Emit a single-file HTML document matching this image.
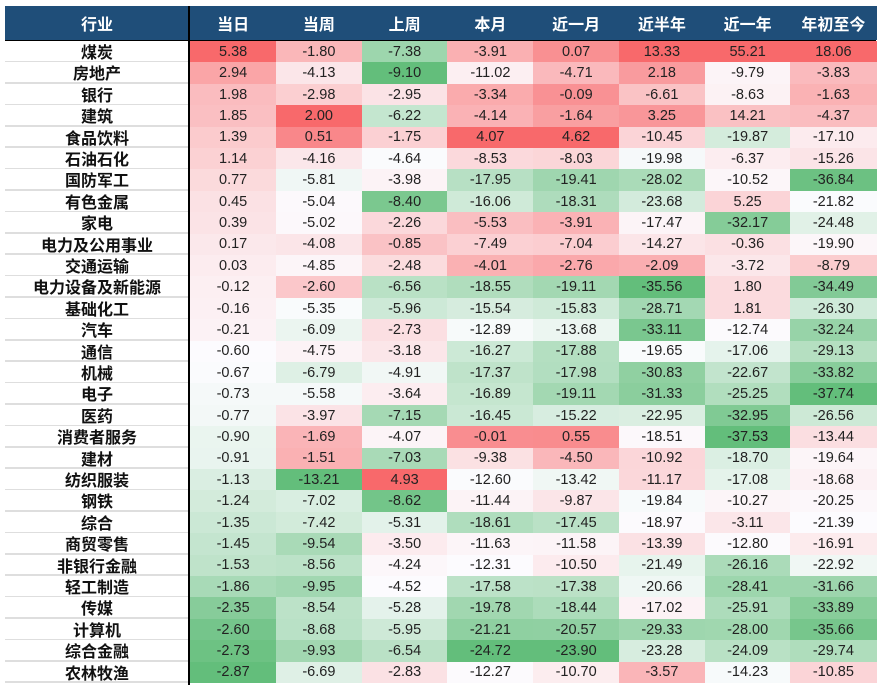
<!DOCTYPE html>
<html><head><meta charset="utf-8">
<style>
body{margin:0;background:#fff;width:880px;height:685px;overflow:hidden;font-family:"Liberation Sans","Noto Sans CJK SC",sans-serif;}
#wrap{position:absolute;left:0;top:0;width:880px;height:685px;}
.hd{position:absolute;top:6px;height:34px;background:#1f4e79;color:#fff;font-size:16px;font-weight:bold;display:flex;align-items:center;justify-content:center;}
.cat{position:absolute;left:5px;width:184px;font-size:16px;font-weight:bold;color:#111;display:flex;align-items:center;justify-content:center;background:#fff;}
.cell{position:absolute;font-size:14.5px;color:#222;display:flex;align-items:center;justify-content:center;}
.sep{position:absolute;left:5px;width:184px;height:2px;background:#dedede;}
#vline{position:absolute;left:188px;top:6px;width:2px;height:679px;background:#000;}
#hline{position:absolute;left:5px;top:40px;width:871px;height:1px;background:#000;}
</style></head><body>
<div id="wrap"></div>
<script>
const categories=["煤炭","房地产","银行","建筑","食品饮料","石油石化","国防军工","有色金属","家电","电力及公用事业","交通运输","电力设备及新能源","基础化工","汽车","通信","机械","电子","医药","消费者服务","建材","纺织服装","钢铁","综合","商贸零售","非银行金融","轻工制造","传媒","计算机","综合金融","农林牧渔"];
const headers=["当日","当周","上周","本月","近一月","近半年","近一年","年初至今"];
const dayVals=[5.38,2.94,1.98,1.85,1.39,1.14,0.77,0.45,0.39,0.17,0.03,-0.12,-0.16,-0.21,-0.60,-0.67,-0.73,-0.77,-0.90,-0.91,-1.13,-1.24,-1.35,-1.45,-1.53,-1.86,-2.35,-2.60,-2.73,-2.87];
const weekVals=[-1.80,-4.13,-2.98,2.00,0.51,-4.16,-5.81,-5.04,-5.02,-4.08,-4.85,-2.60,-5.35,-6.09,-4.75,-6.79,-5.58,-3.97,-1.69,-1.51,-13.21,-7.02,-7.42,-9.54,-8.56,-9.95,-8.54,-8.68,-9.93,-6.69];
const lastWeekVals=[-7.38,-9.10,-2.95,-6.22,-1.75,-4.64,-3.98,-8.40,-2.26,-0.85,-2.48,-6.56,-5.96,-2.73,-3.18,-4.91,-3.64,-7.15,-4.07,-7.03,4.93,-8.62,-5.31,-3.50,-4.24,-4.52,-5.28,-5.95,-6.54,-2.83];
const monthVals=[-3.91,-11.02,-3.34,-4.14,4.07,-8.53,-17.95,-16.06,-5.53,-7.49,-4.01,-18.55,-15.54,-12.89,-16.27,-17.37,-16.89,-16.45,-0.01,-9.38,-12.60,-11.44,-18.61,-11.63,-12.31,-17.58,-19.78,-21.21,-24.72,-12.27];
const recentMonthVals=[0.07,-4.71,-0.09,-1.64,4.62,-8.03,-19.41,-18.31,-3.91,-7.04,-2.76,-19.11,-15.83,-13.68,-17.88,-17.98,-19.11,-15.22,0.55,-4.50,-13.42,-9.87,-17.45,-11.58,-10.50,-17.38,-18.44,-20.57,-23.90,-10.70];
const halfYearVals=[13.33,2.18,-6.61,3.25,-10.45,-19.98,-28.02,-23.68,-17.47,-14.27,-2.09,-35.56,-28.71,-33.11,-19.65,-30.83,-31.33,-22.95,-18.51,-10.92,-11.17,-19.84,-18.97,-13.39,-21.49,-20.66,-17.02,-29.33,-23.28,-3.57];
const yearVals=[55.21,-9.79,-8.63,14.21,-19.87,-6.37,-10.52,5.25,-32.17,-0.36,-3.72,1.80,1.81,-12.74,-17.06,-22.67,-25.25,-32.95,-37.53,-18.70,-17.08,-10.27,-3.11,-12.80,-26.16,-28.41,-25.91,-28.00,-24.09,-14.23];
const ytdVals=[18.06,-3.83,-1.63,-4.37,-17.10,-15.26,-36.84,-21.82,-24.48,-19.90,-8.79,-34.49,-26.30,-32.24,-29.13,-33.82,-37.74,-26.56,-13.44,-19.64,-18.68,-20.25,-21.39,-16.91,-22.92,-31.66,-33.89,-35.66,-29.74,-10.85];
const series=[dayVals,weekVals,lastWeekVals,monthVals,recentMonthVals,halfYearVals,yearVals,ytdVals];

const wrap=document.getElementById('wrap');
const colX0=190, colW=85.75, rowY0=41, rowH=21.4;
const GREEN=[99,190,123], WHITE=[252,252,255], RED=[248,105,107];
function mix(a,b,t){return 'rgb('+a.map((v,i)=>Math.round(v+(b[i]-v)*t)).join(',')+')';}
function median(arr){const s=[...arr].sort((a,b)=>a-b);const n=s.length;return n%2?s[(n-1)/2]:(s[n/2-1]+s[n/2])/2;}
function colorFor(v,arr){const mn=Math.min(...arr),mx=Math.max(...arr),md=median(arr);
 if(v>=md) return mix(WHITE,RED,(v-md)/((mx-md)||1));
 return mix(WHITE,GREEN,(md-v)/((md-mn)||1));}

const h0=document.createElement('div');
h0.className='hd';h0.style.left='5px';h0.style.width='184px';h0.textContent='行业';


wrap.appendChild(h0);
headers.forEach((h,j)=>{
 const d=document.createElement('div');d.className='hd';
 d.style.left=(colX0+j*colW)+'px';d.style.width=(colW+0.5)+'px';d.textContent=h;
 
 
 wrap.appendChild(d);
});
categories.forEach((c,i)=>{
 const y=rowY0+i*rowH;
 const d=document.createElement('div');d.className='cat';
 d.style.top=y+'px';d.style.height=(rowH-1.5)+'px';d.textContent=c;
 
 
 wrap.appendChild(d);
 const s=document.createElement('div');s.className='sep';s.style.top=(y+rowH-1.7)+'px';
 
 
 wrap.appendChild(s);
 series.forEach((arr,j)=>{
  const v=arr[i];
  const e=document.createElement('div');e.className='cell';
  e.style.left=(colX0+j*colW)+'px';e.style.width=(colW+0.5)+'px';
  e.style.top=y+'px';e.style.height=(rowH+0.2)+'px';
  e.style.background=colorFor(v,arr);
  e.textContent=v.toFixed(2);
  
  
  wrap.appendChild(e);
 });
});
const vl=document.createElement('div');vl.id='vline';


wrap.appendChild(vl);
const hl=document.createElement('div');hl.id='hline';


wrap.appendChild(hl);
</script>
</body></html>
